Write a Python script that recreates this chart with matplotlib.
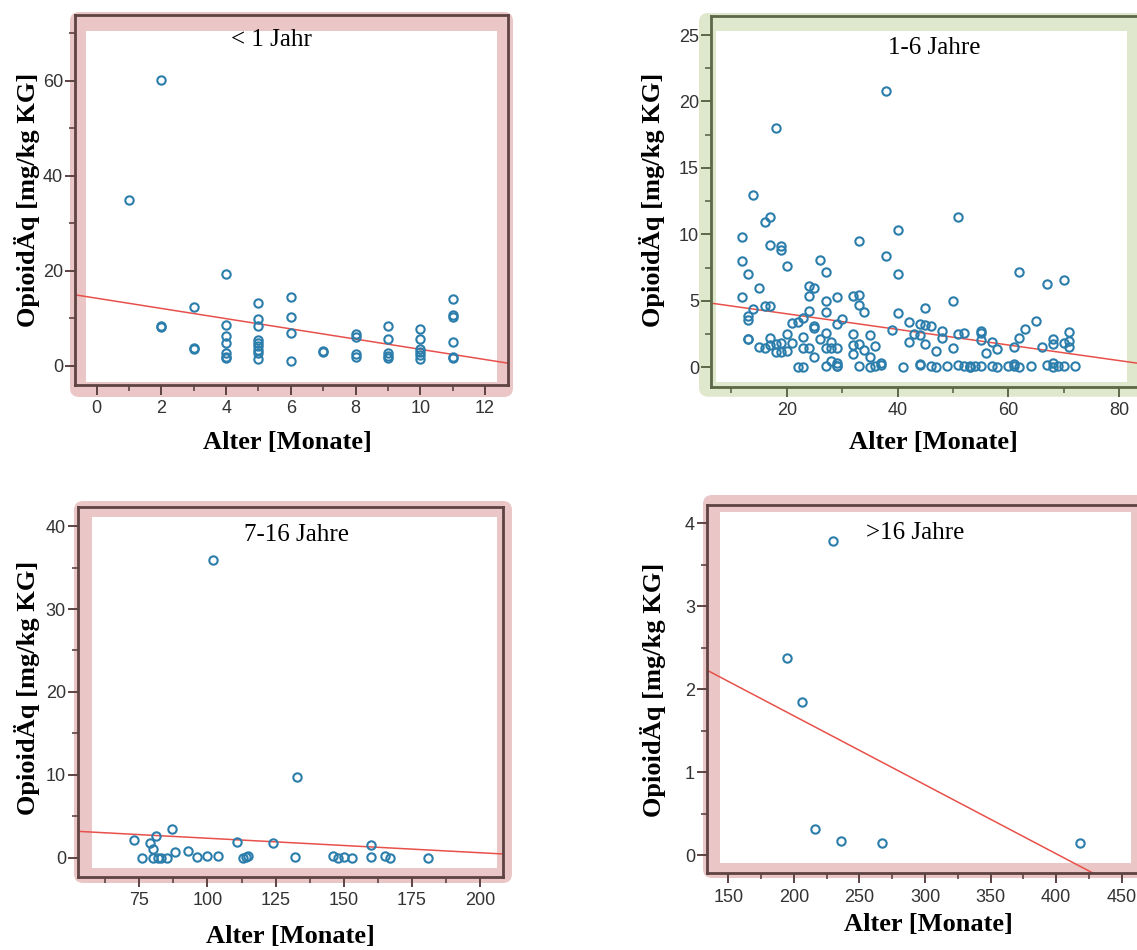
# -*- coding: utf-8 -*-
import numpy as np
import matplotlib
matplotlib.use("Agg")
import matplotlib.pyplot as plt
from matplotlib.patches import FancyBboxPatch, Rectangle
from matplotlib.ticker import MultipleLocator

# ---- data ----
titles = ["< 1 Jahr", "1-6 Jahre", "7-16 Jahre", ">16 Jahre"]
x_label = "Alter [Monate]"
y_label = "OpioidÄq [mg/kg KG]"

age_u1 = [1, 2, 2, 2, 3, 3, 3, 4, 4, 4, 4, 4, 4, 4, 5, 5, 5, 5, 5, 5, 5, 5, 5,
          6, 6, 6, 6, 7, 7, 8, 8, 8, 8, 9, 9, 9, 9, 9, 10, 10, 10, 10, 10, 10,
          11, 11, 11, 11, 11, 11]
dose_u1 = [34.8, 60.1, 8.1, 8.3, 12.4, 3.5, 3.7, 19.4, 8.5, 6.25, 4.85, 2.6, 1.9, 1.6,
           13.3, 9.8, 8.4, 5.4, 4.85, 4.15, 3.3, 2.75, 1.4, 14.4, 10.2, 6.8, 1.05,
           2.9, 3.0, 6.67, 5.97, 2.4, 1.9, 8.36, 5.6, 2.6, 2.05, 1.7,
           7.7, 5.7, 3.45, 2.9, 2.25, 1.4, 14.0, 10.7, 10.3, 5.0, 1.9, 1.55]

age_1_6 = [38, 18, 14, 17, 16, 51, 40, 12, 33, 17, 19, 19, 38, 12, 26, 20, 13, 27, 40, 62,
           67, 70, 15, 24, 25, 12, 24, 32, 33, 29, 27, 50, 16, 17, 33, 14, 45, 24, 27, 34,
           40, 13, 13, 23, 30, 21, 22, 42, 65, 25, 25, 29, 44, 45, 46, 63, 39, 48, 55, 71,
           27, 20, 32, 35, 43, 44, 51, 52, 55, 13, 13, 17, 23, 26, 28, 48, 55, 62, 68, 71,
           57, 18, 19, 21, 42, 45, 36, 15, 16, 17, 23, 24, 27, 28, 29, 32, 33, 34, 50, 58,
           61, 66, 68, 70, 71, 18, 19, 20, 47, 56, 32, 25, 35, 28, 29, 29,
           22, 23, 27, 29, 33, 35, 36, 37, 37, 41, 44, 44, 46, 47, 49, 51, 52, 53, 53, 53,
           54, 55, 57, 58, 60, 61, 61, 62, 64, 67, 68, 68, 69, 70, 72]
dose_1_6 = [20.8, 18.0, 13.0, 11.3, 10.9, 11.3, 10.3, 9.8, 9.5, 9.2, 9.1, 8.8, 8.4, 8.0, 8.1,
            7.6, 7.05, 7.15, 7.0, 7.2, 6.27, 6.57, 6.0, 6.1, 6.0, 5.3, 5.37, 5.4, 5.47, 5.3,
            5.0, 5.0, 4.6, 4.64, 4.7, 4.4, 4.44, 4.24, 4.14, 4.16, 4.06, 3.86, 3.56, 3.7, 3.6,
            3.36, 3.44, 3.44, 3.49, 3.1, 2.93, 3.26, 3.26, 3.19, 3.11, 2.88, 2.8, 2.73, 2.76,
            2.66, 2.6, 2.53, 2.5, 2.46, 2.5, 2.43, 2.5, 2.58, 2.56, 2.13, 2.1, 2.18, 2.26,
            2.13, 1.93, 2.18, 2.06, 2.18, 2.13, 2.0, 1.88, 1.76, 1.8, 1.8, 1.88, 1.73, 1.6,
            1.55, 1.43, 1.68, 1.48, 1.48, 1.43, 1.43, 1.48, 1.68, 1.76, 1.3, 1.43, 1.35,
            1.5, 1.55, 1.73, 1.8, 1.5, 1.18, 1.13, 1.25, 1.25, 1.1, 1.0, 0.8, 0.8, 0.48,
            0.3, 0.13,
            0.05, 0.05, 0.08, 0.1, 0.12, 0.05, 0.1, 0.2, 0.3, 0.05, 0.15, 0.25, 0.1, 0.05,
            0.12, 0.15, 0.1, 0.05, 0.0, 0.12, 0.08, 0.1, 0.1, 0.05, 0.08, 0.1, 0.25, 0.05,
            0.1, 0.2, 0.05, 0.35, 0.1, 0.08, 0.12]

age_7_16 = [73, 76, 79, 80, 80, 81, 82, 83, 85, 87, 88, 93, 96, 100, 102, 104, 111, 113,
            114, 115, 124, 132, 133, 146, 148, 150, 153, 160, 160, 165, 167, 181]
dose_7_16 = [2.13, 0.0, 1.73, 1.0, 0.0, 2.6, 0.0, 0.0, 0.0, 3.46, 0.72, 0.8, 0.12, 0.2,
             35.9, 0.2, 1.85, 0.0, 0.12, 0.24, 1.73, 0.04, 9.73, 0.24, 0.0, 0.04, 0.0,
             1.53, 0.04, 0.2, 0.0, 0.0]

age_o16 = [195, 206, 216, 230, 236, 267, 418]
dose_o16 = [2.37, 1.84, 0.31, 3.78, 0.17, 0.14, 0.15]

# linear fit lines as shown (intercept, slope)
fit_intercept = [14.2, 5.2, 4.1, 3.34]
fit_slope = [-1.075, -0.0587, -0.0175, -0.00831]

# axis ranges and ticks
x_limits = [(-0.67, 12.71), (6.28, 84.3), (52.4, 208.55), (133.5, 467.8)]
y_limits = [(-4.06, 73.8), (-1.46, 26.43), (-2.29, 42.27), (-0.22, 4.22)]
x_major = [2, 20, 25, 50]
y_major = [20, 5, 10, 1]

ages = [age_u1, age_1_6, age_7_16, age_o16]
doses = [dose_u1, dose_1_6, dose_7_16, dose_o16]

# ---- layout in pixels of the 1137x950 picture ----
W, H = 1137, 950
# spine box (left, top, right, bottom)
axes_px = [(75, 15, 508, 385), (710.7, 16, 1143, 386.7),
           (77.7, 507.3, 503.3, 876.7), (706.7, 505, 1145, 873.3)]
inner_px = [(86, 31, 497, 382), (715.7, 30.7, 1126.7, 381.7),
            (91.7, 516.7, 496.7, 868.3), (720, 511.7, 1131, 862.7)]
band_px = [(70, 12, 513, 397), (699, 13, 1160, 396.7),
           (74, 501, 512, 883), (703, 495, 1160, 878)]
title_px = [(271, 40), (934, 48), (297, 535), (915, 533)]
ylab_px = [(27, 200), (652, 200), (27, 688), (653, 690)]
xlab_px = [(287, 443), (933, 442), (290, 937), (928, 925)]

band_colors = ["#ebc6c6", "#dfe8cc", "#ebc6c6", "#ebc6c6"]
spine_colors = ["#5e4343", "#5c6848", "#5e4343", "#5e4343"]
point_color = "#2b7dab"
line_color = "#e8504a"

fig = plt.figure(figsize=(W / 100, H / 100), dpi=100)


def frac_box(box):
    l, t, r, b = box
    return l / W, 1 - b / H, (r - l) / W, (b - t) / H


for i in range(4):
    # coloured frame with rounded corners and white plotting field, behind the axes
    bl, bb, bw, bh = frac_box(band_px[i])
    fig.patches.append(FancyBboxPatch((bl, bb), bw, bh,
                                      boxstyle="round,pad=0,rounding_size=0.008",
                                      mutation_aspect=W / H,
                                      transform=fig.transFigure,
                                      facecolor=band_colors[i], edgecolor="none",
                                      zorder=-2))
    il, ib, iw, ih = frac_box(inner_px[i])
    fig.patches.append(Rectangle((il, ib), iw, ih, transform=fig.transFigure,
                                 facecolor="white", edgecolor="none", zorder=-1))

    ax = fig.add_axes(frac_box(axes_px[i]))
    ax.set_facecolor("none")
    ax.set_xlim(*x_limits[i])
    ax.set_ylim(*y_limits[i])

    # regression line
    xs = np.array(x_limits[i])
    ax.plot(xs, fit_intercept[i] + fit_slope[i] * xs, color=line_color, lw=1.1, zorder=2)

    ax.plot(ages[i], doses[i], "o", ms=6, mfc="none", mec=point_color, mew=1.5,
            zorder=3)

    for s in ax.spines.values():
        s.set_color(spine_colors[i])
        s.set_linewidth(2)
    ax.xaxis.set_major_locator(MultipleLocator(x_major[i]))
    ax.xaxis.set_minor_locator(MultipleLocator(x_major[i] / 2))
    ax.yaxis.set_major_locator(MultipleLocator(y_major[i]))
    ax.yaxis.set_minor_locator(MultipleLocator(y_major[i] / 2))
    ax.tick_params(which="major", length=7, width=1.4, color=spine_colors[i],
                   labelsize=13, labelcolor="#333333", pad=1.5)
    ax.tick_params(which="minor", length=4, width=1.2, color=spine_colors[i])
    ax.tick_params(axis="x", which="major", pad=4)
    for lab in ax.get_xticklabels() + ax.get_yticklabels():
        lab.set_family("Liberation Sans")

    fig.text(title_px[i][0] / W, 1 - title_px[i][1] / H, titles[i],
             family="Liberation Serif", fontsize=18, ha="center", va="center")
    fig.text(ylab_px[i][0] / W, 1 - ylab_px[i][1] / H, y_label,
             family="Liberation Serif", fontsize=19, fontweight="bold",
             rotation=90, ha="center", va="center")
    fig.text(xlab_px[i][0] / W, 1 - xlab_px[i][1] / H, x_label,
             family="Liberation Serif", fontsize=19, fontweight="bold",
             ha="center", va="center")

fig.savefig("out.png", dpi=100)
